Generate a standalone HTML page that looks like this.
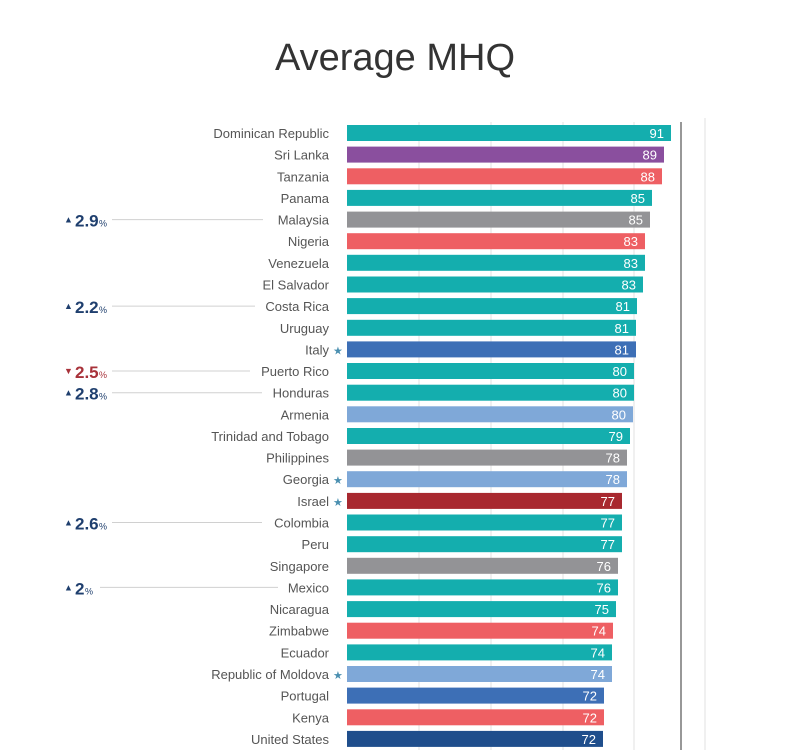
<!DOCTYPE html>
<html><head><meta charset="utf-8"><style>
html,body{margin:0;padding:0;background:#fff;}
svg{display:block;font-family:"Liberation Sans",sans-serif;}
.l{font-size:13px;fill:#555;text-anchor:end;}
.v{font-size:13px;fill:#fff;text-anchor:end;}
.s{font-size:11px;fill:#4a8fb0;}
.a{font-size:17px;fill:#1f3f6e;font-weight:bold;}
.p{font-size:9px;fill:#1f3f6e;}
</style></head><body>
<svg width="792" height="750" viewBox="0 0 792 750">
<text x="395" y="70" text-anchor="middle" font-size="38" fill="#333">Average MHQ</text>
<g stroke="#e2e2e2" stroke-width="1">
<line x1="419" y1="122" x2="419" y2="750"/><line x1="491" y1="122" x2="491" y2="750"/>
<line x1="563" y1="122" x2="563" y2="750"/><line x1="634" y1="122" x2="634" y2="750"/>
<line x1="705" y1="118" x2="705" y2="750"/>
</g>
<line x1="681" y1="122" x2="681" y2="750" stroke="#777" stroke-width="1.5"/>

<g transform="translate(0,133)"><rect x="347" y="-8" width="324" height="16" fill="#14aeae"/><text class="v" x="664" y="5">91</text><text class="l" x="329" y="5">Dominican Republic</text></g>
<g transform="translate(0,154.6)"><rect x="347" y="-8" width="317" height="16" fill="#8a4f9e"/><text class="v" x="657" y="5">89</text><text class="l" x="329" y="5">Sri Lanka</text></g>
<g transform="translate(0,176.3)"><rect x="347" y="-8" width="315" height="16" fill="#ee5f63"/><text class="v" x="655" y="5">88</text><text class="l" x="329" y="5">Tanzania</text></g>
<g transform="translate(0,197.9)"><rect x="347" y="-8" width="305" height="16" fill="#14aeae"/><text class="v" x="645" y="5">85</text><text class="l" x="329" y="5">Panama</text></g>
<g transform="translate(0,219.6)"><rect x="347" y="-8" width="303" height="16" fill="#939396"/><text class="v" x="643" y="5">85</text><text class="l" x="329" y="5">Malaysia</text></g>
<g transform="translate(0,241.2)"><rect x="347" y="-8" width="298" height="16" fill="#ee5f63"/><text class="v" x="638" y="5">83</text><text class="l" x="329" y="5">Nigeria</text></g>
<g transform="translate(0,262.8)"><rect x="347" y="-8" width="298" height="16" fill="#14aeae"/><text class="v" x="638" y="5">83</text><text class="l" x="329" y="5">Venezuela</text></g>
<g transform="translate(0,284.5)"><rect x="347" y="-8" width="296" height="16" fill="#14aeae"/><text class="v" x="636" y="5">83</text><text class="l" x="329" y="5">El Salvador</text></g>
<g transform="translate(0,306.1)"><rect x="347" y="-8" width="290" height="16" fill="#14aeae"/><text class="v" x="630" y="5">81</text><text class="l" x="329" y="5">Costa Rica</text></g>
<g transform="translate(0,327.8)"><rect x="347" y="-8" width="289" height="16" fill="#14aeae"/><text class="v" x="629" y="5">81</text><text class="l" x="329" y="5">Uruguay</text></g>
<g transform="translate(0,349.4)"><rect x="347" y="-8" width="289" height="16" fill="#3d6fb6"/><text class="v" x="629" y="5">81</text><text class="l" x="329" y="5">Italy</text><text class="s" x="333" y="5">★</text></g>
<g transform="translate(0,371)"><rect x="347" y="-8" width="287" height="16" fill="#14aeae"/><text class="v" x="627" y="5">80</text><text class="l" x="329" y="5">Puerto Rico</text></g>
<g transform="translate(0,392.7)"><rect x="347" y="-8" width="287" height="16" fill="#14aeae"/><text class="v" x="627" y="5">80</text><text class="l" x="329" y="5">Honduras</text></g>
<g transform="translate(0,414.3)"><rect x="347" y="-8" width="286" height="16" fill="#7fa8d8"/><text class="v" x="626" y="5">80</text><text class="l" x="329" y="5">Armenia</text></g>
<g transform="translate(0,436)"><rect x="347" y="-8" width="283" height="16" fill="#14aeae"/><text class="v" x="623" y="5">79</text><text class="l" x="329" y="5">Trinidad and Tobago</text></g>
<g transform="translate(0,457.6)"><rect x="347" y="-8" width="280" height="16" fill="#939396"/><text class="v" x="620" y="5">78</text><text class="l" x="329" y="5">Philippines</text></g>
<g transform="translate(0,479.2)"><rect x="347" y="-8" width="280" height="16" fill="#7fa8d8"/><text class="v" x="620" y="5">78</text><text class="l" x="329" y="5">Georgia</text><text class="s" x="333" y="5">★</text></g>
<g transform="translate(0,500.9)"><rect x="347" y="-8" width="275" height="16" fill="#a8282f"/><text class="v" x="615" y="5">77</text><text class="l" x="329" y="5">Israel</text><text class="s" x="333" y="5">★</text></g>
<g transform="translate(0,522.5)"><rect x="347" y="-8" width="275" height="16" fill="#14aeae"/><text class="v" x="615" y="5">77</text><text class="l" x="329" y="5">Colombia</text></g>
<g transform="translate(0,544.2)"><rect x="347" y="-8" width="275" height="16" fill="#14aeae"/><text class="v" x="615" y="5">77</text><text class="l" x="329" y="5">Peru</text></g>
<g transform="translate(0,565.8)"><rect x="347" y="-8" width="271" height="16" fill="#939396"/><text class="v" x="611" y="5">76</text><text class="l" x="329" y="5">Singapore</text></g>
<g transform="translate(0,587.4)"><rect x="347" y="-8" width="271" height="16" fill="#14aeae"/><text class="v" x="611" y="5">76</text><text class="l" x="329" y="5">Mexico</text></g>
<g transform="translate(0,609.1)"><rect x="347" y="-8" width="269" height="16" fill="#14aeae"/><text class="v" x="609" y="5">75</text><text class="l" x="329" y="5">Nicaragua</text></g>
<g transform="translate(0,630.7)"><rect x="347" y="-8" width="266" height="16" fill="#ee5f63"/><text class="v" x="606" y="5">74</text><text class="l" x="329" y="5">Zimbabwe</text></g>
<g transform="translate(0,652.4)"><rect x="347" y="-8" width="265" height="16" fill="#14aeae"/><text class="v" x="605" y="5">74</text><text class="l" x="329" y="5">Ecuador</text></g>
<g transform="translate(0,674)"><rect x="347" y="-8" width="265" height="16" fill="#7fa8d8"/><text class="v" x="605" y="5">74</text><text class="l" x="329" y="5">Republic of Moldova</text><text class="s" x="333" y="5">★</text></g>
<g transform="translate(0,695.6)"><rect x="347" y="-8" width="257" height="16" fill="#3d6fb6"/><text class="v" x="597" y="5">72</text><text class="l" x="329" y="5">Portugal</text></g>
<g transform="translate(0,717.3)"><rect x="347" y="-8" width="257" height="16" fill="#ee5f63"/><text class="v" x="597" y="5">72</text><text class="l" x="329" y="5">Kenya</text></g>
<g transform="translate(0,738.9)"><rect x="347" y="-8" width="256" height="16" fill="#1f4e8c"/><text class="v" x="596" y="5">72</text><text class="l" x="329" y="5">United States</text></g>

<g stroke="#d0d0d0" stroke-width="1">
<line x1="112" y1="219.6" x2="263" y2="219.6"/>
<line x1="112" y1="306.1" x2="255" y2="306.1"/>
<line x1="112" y1="371" x2="250" y2="371"/>
<line x1="112" y1="392.7" x2="262" y2="392.7"/>
<line x1="112" y1="522.5" x2="262" y2="522.5"/>
<line x1="100" y1="587.4" x2="278" y2="587.4"/>
</g>
<g transform="translate(0,219.6)"><text class="p" x="64" y="3">▲</text><text class="a" x="75" y="7">2.9</text><text class="p" x="99" y="7">%</text></g>
<g transform="translate(0,306.1)"><text class="p" x="64" y="3">▲</text><text class="a" x="75" y="7">2.2</text><text class="p" x="99" y="7">%</text></g>
<g transform="translate(0,371)"><text class="p" x="64" y="3" style="fill:#a8323a">▼</text><text class="a" x="75" y="7" style="fill:#a8323a">2.5</text><text class="p" x="99" y="7" style="fill:#a8323a">%</text></g>
<g transform="translate(0,392.7)"><text class="p" x="64" y="3">▲</text><text class="a" x="75" y="7">2.8</text><text class="p" x="99" y="7">%</text></g>
<g transform="translate(0,522.5)"><text class="p" x="64" y="3">▲</text><text class="a" x="75" y="7">2.6</text><text class="p" x="99" y="7">%</text></g>
<g transform="translate(0,587.4)"><text class="p" x="64" y="3">▲</text><text class="a" x="75" y="7">2</text><text class="p" x="85" y="7">%</text></g>
</svg>
</body></html>
